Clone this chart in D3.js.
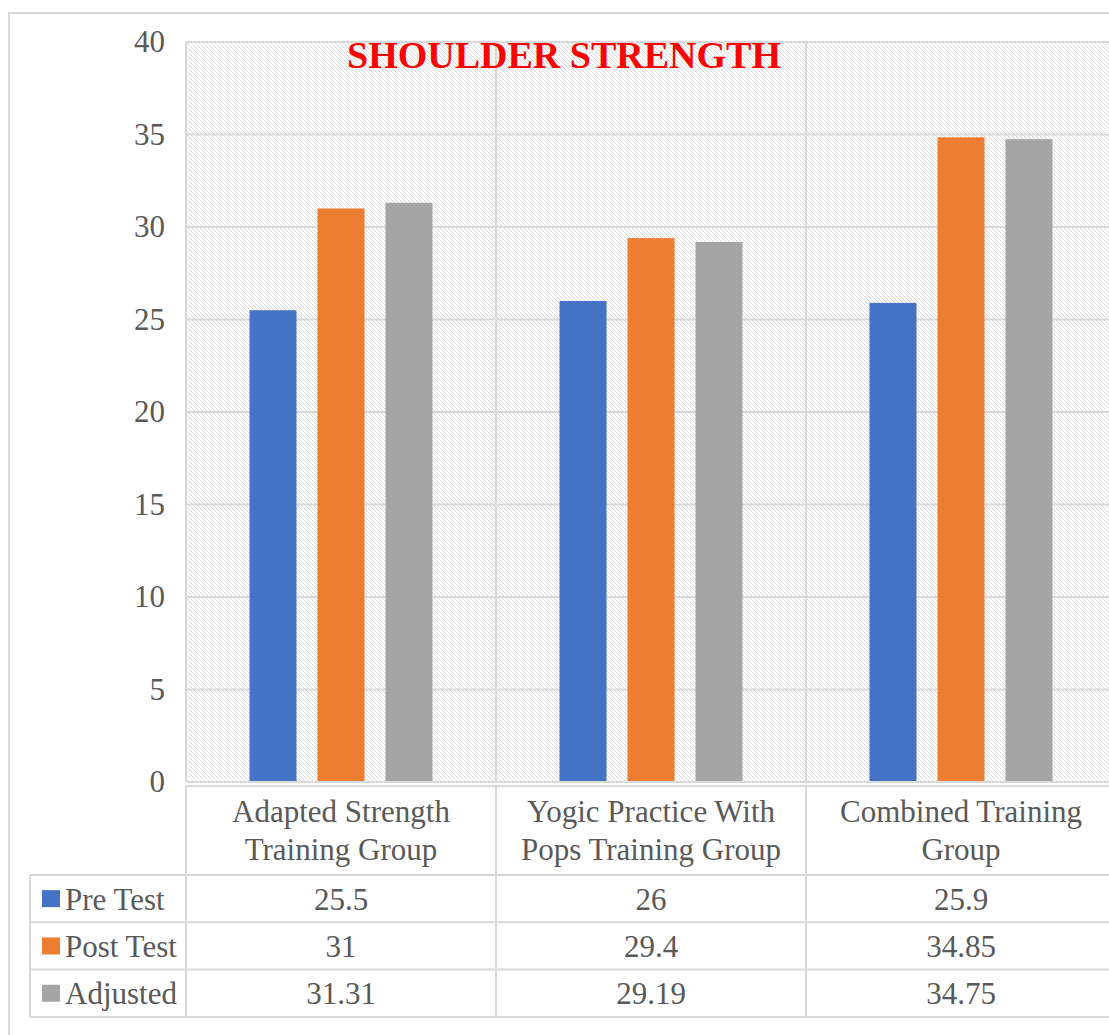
<!DOCTYPE html>
<html>
<head>
<meta charset="utf-8">
<script src="https://cdn.jsdelivr.net/npm/d3@7"></script>
<style>
  html, body { margin: 0; padding: 0; background: #fff; }
  svg { display: block; }
  text { font-family: "Liberation Serif", "Times New Roman", serif; }
</style>
</head>
<body>
<svg id="chart" width="1109" height="1035"></svg>
<script>
const categories = [
  ["Adapted Strength", "Training Group"],
  ["Yogic Practice With", "Pops Training Group"],
  ["Combined Training", "Group"]
];
const seriesNames = ["Pre Test", "Post Test", "Adjusted"];
const preTest = [25.5, 26, 25.9];
const postTest = [31, 29.4, 34.85];
const adjusted = [31.31, 29.19, 34.75];
const tableLabels = [
  ["25.5", "26", "25.9"],
  ["31", "29.4", "34.85"],
  ["31.31", "29.19", "34.75"]
];
const yTicks = [0, 5, 10, 15, 20, 25, 30, 35, 40];
const colors = ["#4472C4", "#ED7D31", "#A5A5A5"];
const title = "SHOULDER STRENGTH";

const seriesValues = [preTest, postTest, adjusted];

const svg = d3.select("#chart");
const textColor = "#595959";
const lineColor = "#d9d9d9";

// layout
const plotLeft = 186, plotRight = 1116, plotTop = 42, plotBottom = 782;
const tableTop = 786, headerBottom = 875, rowH = 47.3, tableLeft = 30;

// outer frame
svg.append("rect").attr("x", 9).attr("y", 13).attr("width", 1200).attr("height", 1100)
  .attr("fill", "#fff").attr("stroke", lineColor).attr("stroke-width", 2);

// hatch pattern
const defs = svg.append("defs");
const pat = defs.append("pattern").attr("id", "hatch").attr("patternUnits", "userSpaceOnUse")
  .attr("width", 4).attr("height", 4);
pat.append("rect").attr("width", 4).attr("height", 4).attr("fill", "#ffffff");
pat.append("path").attr("d", "M-1,-1 L5,5 M-1,3 L1,5 M3,-1 L5,1")
  .attr("stroke", "#dcdcdc").attr("stroke-width", 1.0);

const x0 = d3.scaleBand().domain(d3.range(categories.length)).range([plotLeft, plotRight]).padding(0);
const x1 = d3.scaleBand().domain(d3.range(seriesNames.length))
  .range([63.5, x0.bandwidth() - 63.5]).paddingInner(0.309).paddingOuter(0);
const y = d3.scaleLinear().domain([0, 40]).range([plotBottom, plotTop]);

// plot background
svg.append("rect").attr("x", plotLeft).attr("y", plotTop)
  .attr("width", plotRight - plotLeft).attr("height", plotBottom - plotTop)
  .attr("fill", "url(#hatch)");

// gridlines
svg.append("g").selectAll("line").data(yTicks).join("line")
  .attr("x1", plotLeft).attr("x2", plotRight)
  .attr("y1", d => y(d)).attr("y2", d => y(d))
  .attr("stroke", lineColor).attr("stroke-width", 2);

// vertical separators in plot
svg.append("g").selectAll("line").data(d3.range(categories.length + 1)).join("line")
  .attr("x1", i => plotLeft + i * x0.step()).attr("x2", i => plotLeft + i * x0.step())
  .attr("y1", plotTop).attr("y2", plotBottom)
  .attr("stroke", lineColor).attr("stroke-width", 2);

// y axis labels via d3 axis
const yAxis = d3.axisLeft(y).tickValues(yTicks).tickSize(0).tickPadding(0).tickFormat(d3.format("d"));
const yg = svg.append("g").attr("transform", `translate(${plotLeft - 21},0)`).call(yAxis);
yg.attr("font-family", null).attr("font-size", null);
yg.select(".domain").remove();
yg.selectAll("text").attr("fill", textColor).style("font-size", "31px")
  .style("font-family", '"Liberation Serif", "Times New Roman", serif');

// bars
const groups = svg.append("g").selectAll("g").data(categories).join("g")
  .attr("transform", (d, i) => `translate(${x0(i)},0)`);
groups.selectAll("rect").data((d, i) => seriesValues.map((s, j) => ({ j, v: s[i] }))).join("rect")
  .attr("x", d => x1(d.j)).attr("width", x1.bandwidth())
  .attr("y", d => y(d.v)).attr("height", d => y(0) - y(d.v))
  .attr("fill", d => colors[d.j]);

// axis line
svg.append("line").attr("x1", plotLeft).attr("x2", plotRight)
  .attr("y1", plotBottom).attr("y2", plotBottom)
  .attr("stroke", lineColor).attr("stroke-width", 2);

// title
svg.append("text").attr("x", 564).attr("y", 68).attr("text-anchor", "middle")
  .attr("fill", "#FF0000").style("font-size", "38px").style("font-weight", "bold")
  .text(title);

// data table
const tg = svg.append("g");
const rowY = i => headerBottom + i * rowH;
tg.append("line").attr("x1", plotLeft).attr("x2", plotRight).attr("y1", tableTop).attr("y2", tableTop)
  .attr("stroke", lineColor).attr("stroke-width", 2);
tg.selectAll("line.h").data(d3.range(seriesNames.length + 1)).join("line").attr("class", "h")
  .attr("x1", tableLeft).attr("x2", plotRight)
  .attr("y1", i => rowY(i)).attr("y2", i => rowY(i))
  .attr("stroke", lineColor).attr("stroke-width", 2);
tg.append("line").attr("x1", tableLeft).attr("x2", tableLeft).attr("y1", headerBottom).attr("y2", rowY(3))
  .attr("stroke", lineColor).attr("stroke-width", 2);
tg.selectAll("line.v").data(d3.range(categories.length + 1)).join("line").attr("class", "v")
  .attr("x1", i => plotLeft + i * x0.step()).attr("x2", i => plotLeft + i * x0.step())
  .attr("y1", tableTop).attr("y2", rowY(3))
  .attr("stroke", lineColor).attr("stroke-width", 2);

// category labels
categories.forEach((lines, i) => {
  const t = tg.append("text").attr("x", x0(i) + x0.bandwidth() / 2).attr("text-anchor", "middle")
    .attr("fill", textColor).style("font-size", "31px");
  lines.forEach((ln, k) => {
    t.append("tspan").attr("x", x0(i) + x0.bandwidth() / 2).attr("y", 822 + k * 38).text(ln);
  });
});

// series rows
seriesNames.forEach((name, j) => {
  const cy = rowY(j) + rowH / 2;
  tg.append("rect").attr("x", 42).attr("y", cy - 8.5).attr("width", 18).attr("height", 17)
    .attr("fill", colors[j]);
  tg.append("text").attr("x", 65).attr("y", cy + 11).attr("fill", textColor)
    .style("font-size", "31px").text(name);
  tableLabels[j].forEach((lab, i) => {
    tg.append("text").attr("x", x0(i) + x0.bandwidth() / 2).attr("y", cy + 11)
      .attr("text-anchor", "middle").attr("fill", textColor).style("font-size", "31px").text(lab);
  });
});
</script>
</body>
</html>
